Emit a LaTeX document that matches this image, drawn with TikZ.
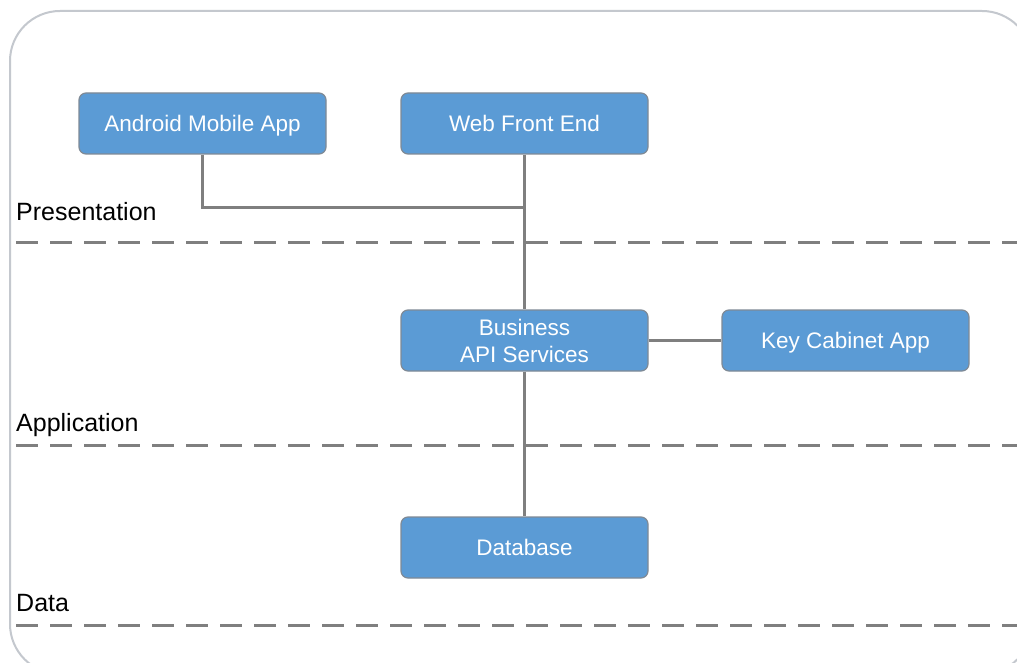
\documentclass[tikz,border=0pt]{standalone}
\usepackage{fontspec}
\setmainfont{Liberation Sans}
\begin{document}
\begin{tikzpicture}[x=1pt,y=-1pt,
  comp/.style={draw=boxedge, line width=1.2pt, fill=boxfill, rounded corners=7pt,
    minimum width=247pt, minimum height=61pt, text=white, align=center,
    font=\fontsize{22.5}{27}\selectfont, inner sep=0pt},
  oneline/.style={text height=16.5pt, text depth=0.5pt},
  layer/.style={anchor=base west, font=\fontsize{25}{29}\selectfont, inner sep=0pt},
  sep/.style={draw=sepgray, line width=3pt, dash pattern=on 22pt off 12pt},
  link/.style={draw=linkgray, line width=3pt}]
\definecolor{boxfill}{HTML}{5B9BD5}
\definecolor{boxedge}{HTML}{7F8A96}
\definecolor{sepgray}{HTML}{7F7F7F}
\definecolor{linkgray}{HTML}{7F7F7F}
\definecolor{frame}{HTML}{C4C8CE}
\useasboundingbox (0,0) rectangle (1017,663);
\fill[white] (0,0) rectangle (1017,663);
\begin{scope}
\clip (0,0) rectangle (1017,663);
\draw[frame, line width=2pt, rounded corners=50pt] (10,11) rectangle (1032,674);
\end{scope}
% layer separators
\draw[sep] (16,242) -- (1017,242);
\draw[sep] (16,445) -- (1017,445);
\draw[sep] (16,625) -- (1017,625);
\node[layer] (lp) at (16,221) {Presentation};
\node[layer] (la) at (16,431) {Application};
\node[layer] (ld) at (16,611) {Data};
% components
\node[comp, oneline] (android) at (202.5,123.5) {Android Mobile App};
\node[comp, oneline] (web) at (524.5,123.5) {Web Front End};
\node[comp] (api) at (524.5,340.5) {Business\\API Services};
\node[comp, oneline] (key) at (845.5,340.5) {Key Cabinet App};
\node[comp, oneline] (db) at (524.5,547.5) {Database};
\coordinate (j) at (524.5,208);
% connectors
\draw[link] (android.south) |- (j);
\draw[link] (web.south) -- (api.north);
\draw[link] (api.south) -- (db.north);
\draw[link] (api.east) -- (key.west);
\end{tikzpicture}
\end{document}
